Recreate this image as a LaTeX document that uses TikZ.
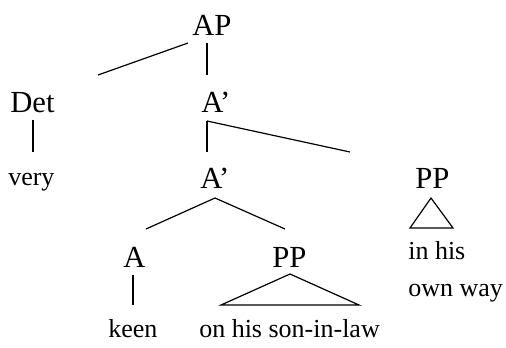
\documentclass[tikz,border=0pt]{standalone}
\usepackage{fontspec}
\setmainfont{Liberation Serif}
\begin{document}
\begin{tikzpicture}[x=0.75pt,y=-0.75pt,
  cat/.style={inner sep=0pt,anchor=base west,font=\fontsize{23}{27}\selectfont},
  word/.style={inner sep=0pt,anchor=base west,font=\fontsize{19.5}{27.75}\selectfont},
  edge/.style={line width=0.9pt}]
\useasboundingbox (0,0) rectangle (506,347);
% labels
\node[cat] (AP) at (192,35) {AP};
\node[cat] (Det) at (10,112) {Det};
\node[cat] (A1) at (201,112) {A’};
\node[word] (very) at (8,185) {very};
\node[cat] (A2) at (200,188) {A’};
\node[cat] (PPr) at (415,188) {PP};
\node[cat] (A) at (123,267) {A};
\node[cat] (PP) at (272,267) {PP};
\node[word] (keen) at (108,337) {keen};
\node[word] (onhis) at (199,337) {on his son-in-law};
\node[word,align=left,anchor=north west] (inhis) at (408,241) {in his\\own way};
% connector ends
\coordinate (APa) at (188,43);
\coordinate (APb) at (207,43);
\coordinate (Detu) at (98,75);
\coordinate (A1u) at (207,75);
\coordinate (Detd) at (33,120);
\coordinate (veryu) at (33,152);
\coordinate (A1d) at (207,121);
\coordinate (A2u) at (207,152);
\coordinate (PPru) at (350,152);
\coordinate (A2d) at (215,198);
\coordinate (Au) at (146,229);
\coordinate (PPu) at (285,229);
\coordinate (Ad) at (133,275);
\coordinate (keenu) at (133,305);
\coordinate (PPd) at (290,274);
\coordinate (onL) at (221,305);
\coordinate (onR) at (359,305);
\coordinate (PPrd) at (431,198);
\coordinate (inL) at (410,228);
\coordinate (inR) at (453,228);
% connectors
\draw[edge] (APa) -- (Detu);
\draw[edge] (APb) -- (A1u);
\draw[edge] (Detd) -- (veryu);
\draw[edge] (A1d) -- (A2u);
\draw[edge] (A1d) -- (PPru);
\draw[edge] (A2d) -- (Au);
\draw[edge] (A2d) -- (PPu);
\draw[edge] (Ad) -- (keenu);
\draw[edge,line join=miter] (PPd) -- (onL) -- (onR) -- cycle;
\draw[edge,line join=miter] (PPrd) -- (inL) -- (inR) -- cycle;
\end{tikzpicture}
\end{document}
